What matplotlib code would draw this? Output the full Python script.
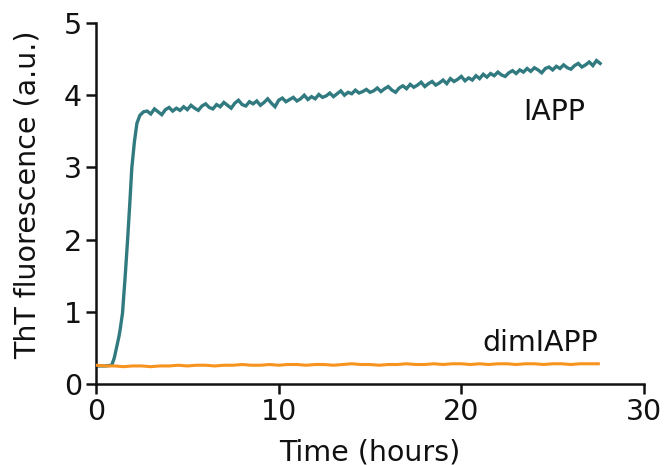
import numpy as np
import matplotlib
matplotlib.use("Agg")
import matplotlib.pyplot as plt

# palette
TEAL, ORANGE, INK = "#307a80", "#f7931e", "#111111"

# IAPP: lag phase + fast growth
rise_t = [0.0, 0.5, 0.86, 1.0, 1.14, 1.25, 1.32, 1.45, 1.6, 1.73, 1.85, 1.96, 2.1, 2.24, 2.4, 2.6]
rise_v = [0.25, 0.25, 0.26, 0.36, 0.52, 0.65, 0.75, 0.98, 1.5, 2.0, 2.5, 2.99, 3.35, 3.61, 3.72, 3.77]

# IAPP plateau, one reading every 0.2 h from 2.8 h to 27.6 h
plateau_start, plateau_end = 2.8, 27.6
plateau_v = [
    3.78, 3.74, 3.81, 3.77, 3.73, 3.80, 3.83, 3.78, 3.82, 3.79,
    3.84, 3.80, 3.86, 3.82, 3.79, 3.85, 3.88, 3.83, 3.81, 3.87,
    3.84, 3.90, 3.86, 3.82, 3.89, 3.93, 3.87, 3.85, 3.91, 3.88,
    3.92, 3.86, 3.90, 3.95, 3.89, 3.84, 3.93, 3.96, 3.91, 3.94,
    3.97, 3.92, 3.95, 4.00, 3.94, 3.98, 3.95, 4.01, 3.97, 3.99,
    4.03, 3.98, 4.02, 4.06, 4.00, 4.04, 4.02, 4.07, 4.03, 4.05,
    4.08, 4.04, 4.06, 4.10, 4.05, 4.09, 4.12, 4.07, 4.04, 4.10,
    4.13, 4.09, 4.15, 4.11, 4.14, 4.18, 4.12, 4.16, 4.19, 4.14,
    4.17, 4.21, 4.16, 4.23, 4.19, 4.22, 4.26, 4.20, 4.24, 4.21,
    4.27, 4.23, 4.29, 4.25, 4.30, 4.27, 4.32, 4.28, 4.26, 4.31,
    4.34, 4.30, 4.35, 4.32, 4.37, 4.33, 4.38, 4.35, 4.31, 4.37,
    4.39, 4.35, 4.40, 4.37, 4.42, 4.38, 4.36, 4.41, 4.44, 4.39,
    4.42, 4.46, 4.41, 4.48, 4.44,
]

# dimIAPP, one reading every 0.5 h from 0 to 27.5 h
dim_start, dim_end = 0.0, 27.5
dim_v = [
    0.26, 0.25, 0.25, 0.24, 0.25, 0.25, 0.24, 0.25, 0.25, 0.26, 0.25, 0.26,
    0.26, 0.25, 0.26, 0.26, 0.27, 0.26, 0.26, 0.27, 0.26, 0.27,
    0.27, 0.26, 0.27, 0.27, 0.26, 0.27, 0.28, 0.27, 0.27, 0.26,
    0.27, 0.27, 0.28, 0.27, 0.27, 0.28, 0.27, 0.28, 0.28, 0.27,
    0.28, 0.27, 0.28, 0.28, 0.27, 0.28, 0.28, 0.27, 0.28, 0.28, 0.27, 0.28, 0.28, 0.28,
]

x_ticks = [0, 10, 20, 30]
y_ticks = [0, 1, 2, 3, 4, 5]

plt.rcParams.update({"font.family": "DejaVu Sans", "font.size": 20.5, "text.color": INK})

fig = plt.figure(figsize=(6.65, 4.65), dpi=100)
ax = fig.add_axes([96 / 665, 81 / 465, 548 / 665, 361 / 465])

plat_t = np.linspace(plateau_start, plateau_end, len(plateau_v))
iapp_t = np.concatenate([rise_t, plat_t])
iapp_v = np.concatenate([rise_v, plateau_v])
dim_t = np.linspace(dim_start, dim_end, len(dim_v))

ax.plot(iapp_t, iapp_v, color=TEAL, lw=2.4, solid_joinstyle="miter", zorder=2)
ax.plot(dim_t, dim_v, color=ORANGE, lw=2.2, zorder=3)

ax.text(26.8, 3.77, "IAPP", ha="right", va="center", fontsize=20.5)
ax.text(27.5, 0.57, "dimIAPP", ha="right", va="center", fontsize=20.5)

ax.set_xlim(0, 30)
ax.set_ylim(0, 5)
ax.set_xticks(x_ticks)
ax.set_yticks(y_ticks)
for side in ("top", "right"):
    ax.spines[side].set_visible(False)
for side in ("left", "bottom"):
    ax.spines[side].set_linewidth(1.8)
    ax.spines[side].set_color(INK)
ax.tick_params(direction="out", length=7, width=1.8, pad=3, labelsize=20.5, colors=INK)

fig.text(28 / 665, 1 - 195 / 465, "ThT fluorescence (a.u.)", rotation=90,
         ha="center", va="center", fontsize=20.5)
fig.text(370 / 665, 1 - 452 / 465, "Time (hours)", ha="center", va="center", fontsize=20.5)

fig.savefig("out.png", dpi=100, facecolor="white")
